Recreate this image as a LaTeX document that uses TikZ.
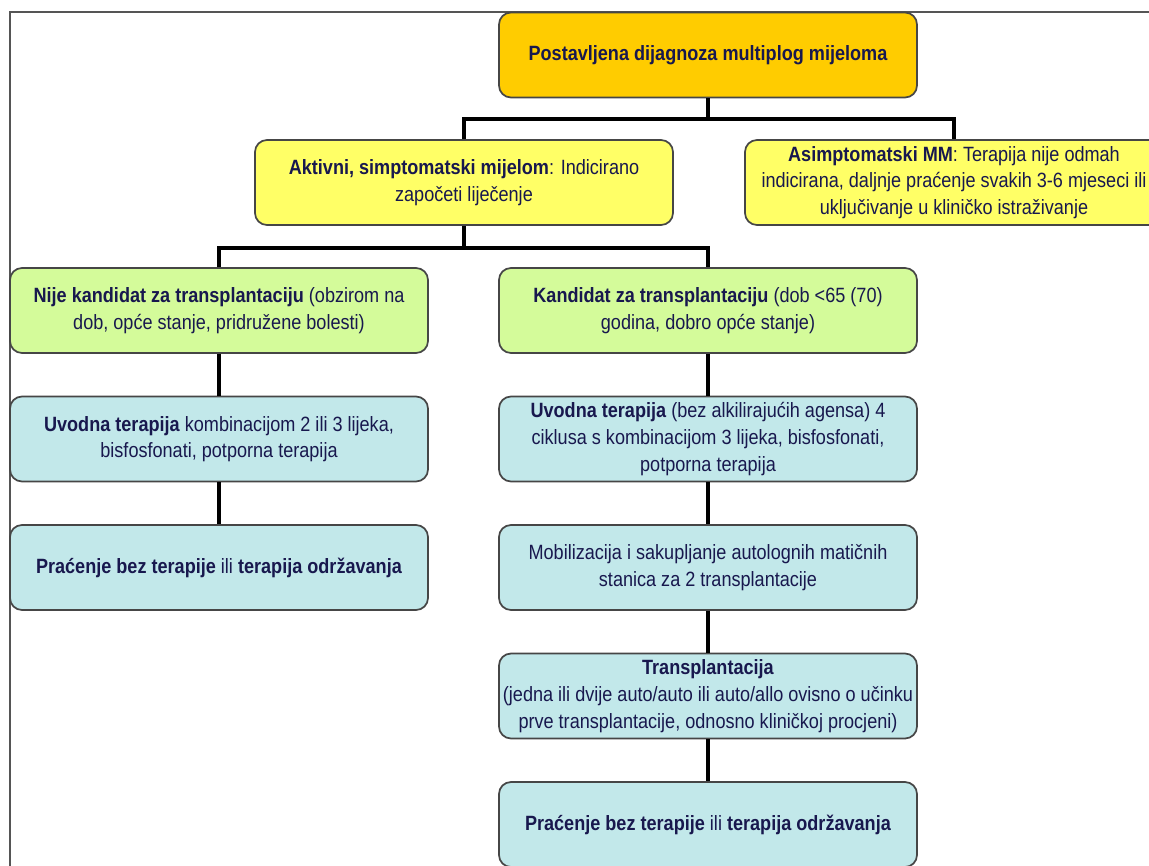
\documentclass[tikz,border=0pt]{standalone}
\usepackage{fontspec}
\setmainfont{Liberation Sans}[FakeStretch=0.875]
\definecolor{goldf}{HTML}{FFCC00}
\definecolor{yelf}{HTML}{FFFF66}
\definecolor{grnf}{HTML}{D4FB9A}
\definecolor{bluf}{HTML}{C2E8EA}
\definecolor{txt}{RGB}{24,24,78}
\definecolor{bord}{RGB}{70,70,70}
\definecolor{framec}{RGB}{85,85,85}
\begin{document}
\begin{tikzpicture}[x=0.75pt,y=-0.75pt,
  box/.style={draw=bord, line width=1.3pt, rounded corners=9pt,
    minimum width=313.5pt, minimum height=63.75pt, inner sep=0pt,
    align=center, text=txt, font=\fontsize{15.5}{20}\selectfont},
  gold/.style={box, fill=goldf},
  yel/.style={box, fill=yelf},
  grn/.style={box, fill=grnf},
  blu/.style={box, fill=bluf},
  conn/.style={draw=black, line width=2.5pt, line join=miter},
  framel/.style={draw=framec, line width=1.5pt}]
\path[use as bounding box, fill=white] (0,0) rectangle (1149,865);
\clip (0,0) rectangle (1149,865);
\draw[framel] (10,12) rectangle (1300,1000);

\node[gold] (top) at (708,55) {\textbf{Postavljena dijagnoza multiplog mijeloma}};
\node[yel] (akt) at (464,182.5) {\textbf{Aktivni, simptomatski mijelom}: Indicirano\\započeti liječenje};
\node[yel] (asi) at (954,182.5) {\textbf{Asimptomatski MM}: Terapija nije odmah\\indicirana, daljnje praćenje svakih 3-6 mjeseci ili\\uključivanje u kliničko istraživanje};
\node[grn] (nije) at (219,310.5) {\textbf{Nije kandidat za transplantaciju} (obzirom na\\dob, opće stanje, pridružene bolesti)};
\node[grn] (kand) at (708,310.5) {\textbf{Kandidat za transplantaciju} (dob <65 (70)\\godina, dobro opće stanje)};
\node[blu] (uvl) at (219,439) {\textbf{Uvodna terapija} kombinacijom 2 ili 3 lijeka,\\bisfosfonati, potporna terapija};
\node[blu] (uvr) at (708,439) {\textbf{Uvodna terapija} (bez alkilirajućih agensa) 4\\ciklusa s kombinacijom 3 lijeka, bisfosfonati,\\potporna terapija};
\node[blu] (prl) at (219,567.5) {\textbf{Praćenje bez terapije} ili \textbf{terapija održavanja}};
\node[blu] (mob) at (708,567.5) {Mobilizacija i sakupljanje autolognih matičnih\\stanica za 2 transplantacije};
\node[blu] (tr) at (708,696) {\textbf{Transplantacija}\\(jedna ili dvije auto/auto ili auto/allo ovisno o učinku\\prve transplantacije, odnosno kliničkoj procjeni)};
\node[blu] (prr) at (708,824.5) {\textbf{Praćenje bez terapije} ili \textbf{terapija održavanja}};

\coordinate (j1) at (708,119);
\coordinate (j2) at (464,248);
\draw[conn] (top.south) -- (j1);
\draw[conn] (akt.north) |- (j1) -| (asi.north);
\draw[conn] (akt.south) -- (j2);
\draw[conn] (nije.north) |- (j2) -| (kand.north);
\draw[conn] (nije.south) -- (uvl.north);
\draw[conn] (uvl.south) -- (prl.north);
\draw[conn] (kand.south) -- (uvr.north);
\draw[conn] (uvr.south) -- (mob.north);
\draw[conn] (mob.south) -- (tr.north);
\draw[conn] (tr.south) -- (prr.north);
\end{tikzpicture}
\end{document}
